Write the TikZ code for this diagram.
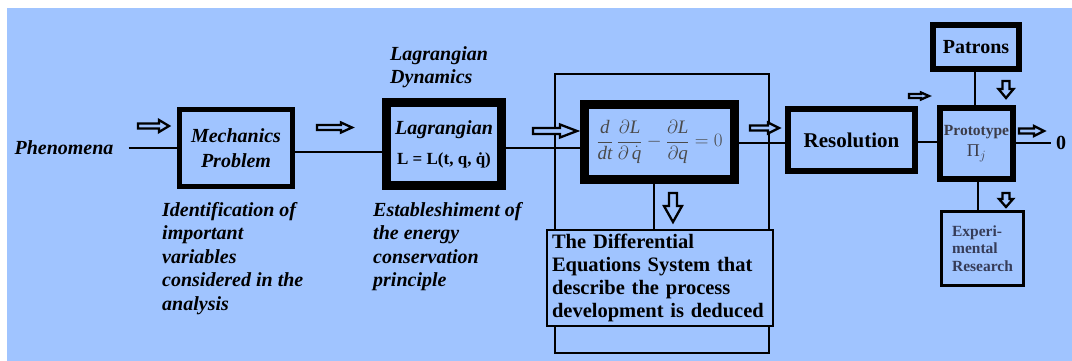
\documentclass[tikz,border=0pt]{standalone}
\usepackage{fix-cm}
\usepackage{fontspec}
\setmainfont{Liberation Serif}
\definecolor{bg}{HTML}{A0C4FF}
\definecolor{eqgray}{HTML}{4A4A4A}
\definecolor{protogray}{HTML}{3C3C48}
\definecolor{expgray}{HTML}{363C58}
\newcommand{\rightblk}[6]{% x1 x2 cy H S HL
  \draw[blk] (#1,#3-#5/2) -- (#2-#6,#3-#5/2) -- (#2-#6,#3-#4/2) -- (#2,#3)
    -- (#2-#6,#3+#4/2) -- (#2-#6,#3+#5/2) -- (#1,#3+#5/2) -- cycle;}
\newcommand{\downblk}[6]{% cx y1 y2 W S HL
  \draw[blk] (#1-#5/2,#2) -- (#1-#5/2,#3-#6) -- (#1-#4/2,#3-#6) -- (#1,#3)
    -- (#1+#4/2,#3-#6) -- (#1+#5/2,#3-#6) -- (#1+#5/2,#2) -- cycle;}
\newcommand{\ti}[1]{\textit{#1}}
\tikzset{
  box/.style={draw=black, fill=bg, inner sep=0pt, align=center},
  conn/.style={draw=black, line width=1.2pt},
  blk/.style={draw=black, fill=bg, line width=2.3pt, line join=miter},
  bilbl/.style={inner sep=0pt, align=left, anchor=north west,
    font=\fontsize{20}{23.5}\selectfont\bfseries\itshape},
}
\begin{document}
\begin{tikzpicture}[x=1pt,y=-1pt]
\useasboundingbox (0,0) rectangle (1072,361);
\fill[white] (0,0) rectangle (1072,361);
\fill[bg] (7,8) rectangle (1072,361);

% frame around the equation part
\node[draw=black, line width=1.2pt, minimum width=214pt, minimum height=279pt, inner sep=0pt] (frame) at (662,213.5) {};

% text nodes
\node[inner sep=0pt, font=\fontsize{20}{24}\selectfont\bfseries\itshape] (phen) at (64,148) {Phenomena};
\node[bilbl] (ident) at (162,202) {Identification of\\important\\variables\\considered in the\\analysis};
\node[bilbl] (lagdyn) at (390,46) {Lagrangian\\Dynamics};
\node[bilbl] (estab) at (373,202) {Estableshiment of\\the energy\\conservation\\principle};
\node[inner sep=0pt, inner xsep=5pt, font=\fontsize{20}{24}\selectfont\bfseries] (zero) at (1061,143) {0};

% boxes
\node[box, line width=5pt, minimum width=113pt, minimum height=77pt,
  font=\fontsize{20}{25}\selectfont\bfseries\itshape] (mech) at (236,148) {Mechanics\\Problem};
\node[box, line width=9pt, minimum width=115pt, minimum height=83pt] (lag) at (444,144)
  {{\fontsize{20}{24}\selectfont\bfseries\itshape Lagrangian}\\[13pt]{\fontsize{17}{20}\selectfont\bfseries L = L(t, q, \.q)}};
\node[box, line width=9pt, minimum width=150pt, minimum height=75pt, text=eqgray] (de) at (659.5,142)
  {\fontsize{19}{22}\selectfont $\displaystyle \frac{\ti{d}}{\ti{dt}}\,\frac{\partial\ti{L}}{\partial\,\dot{\ti{q}}} - \frac{\partial\ti{L}}{\partial\ti{q}} = 0$};
\node[box, line width=6pt, minimum width=127pt, minimum height=62pt,
  font=\fontsize{21}{24}\selectfont\bfseries] (res) at (851.5,140) {Resolution};
\node[box, line width=6pt, minimum width=73pt, minimum height=71pt, text=protogray] (proto) at (976.5,143.5)
  {{\fontsize{15.5}{18}\selectfont\bfseries Prototype}\\[5pt]{\fontsize{18}{20}\selectfont Π$_j$}};
\node[box, line width=6pt, minimum width=86pt, minimum height=44pt,
  font=\fontsize{20}{24}\selectfont\bfseries] (pat) at (976,47) {Patrons};
\node[box, line width=3pt, minimum width=82pt, minimum height=74pt, align=left, text=expgray,
  font=\fontsize{15.5}{17.5}\selectfont\bfseries] (exp) at (982.5,248.5) {Experi-\\mental\\Research};
\node[box, line width=1.2pt, minimum width=226pt, minimum height=96pt, text width=216pt, align=left,
  font=\fontsize{20.5}{22.8}\selectfont\bfseries] (detxt) at (660,278)
  {The Differential\\Equations System that\\describe the process\\development is deduced};

% connectors
\draw[conn] ([xshift=15pt]phen.east) -- (mech.west);
\draw[conn] (mech.east |- 0,152) -- (lag.west |- 0,152);
\draw[conn] (lag.east |- 0,148) -- (de.west |- 0,148);
\draw[conn] (de.east |- 0,143) -- (res.west |- 0,143);
\draw[conn] (res.east |- 0,142) -- (proto.west |- 0,142);
\draw[conn] (proto.east |- 0,143) -- (zero.west |- 0,143);
\draw[conn] (pat.south -| 975,0) -- (proto.north -| 975,0);
\draw[conn] (proto.south -| 978,0) -- (exp.north -| 978,0);
\draw[conn] (de.south -| 654,0) -- (detxt.north -| 654,0);

% hollow block arrows
\rightblk{138}{169}{126}{12}{5}{10}
\rightblk{317}{352}{127.5}{10}{5}{11}
\rightblk{533}{577}{131}{13}{6}{17}
\rightblk{750}{779}{128}{11}{5}{11}
\rightblk{909}{929}{96}{7}{4}{8}
\rightblk{1019}{1044}{131}{10}{5}{10}
\downblk{673}{193}{222}{18}{8}{16}
\downblk{1006}{81}{98}{15}{7}{9}
\downblk{1006}{193}{207}{14}{7}{8}
\end{tikzpicture}
\end{document}
